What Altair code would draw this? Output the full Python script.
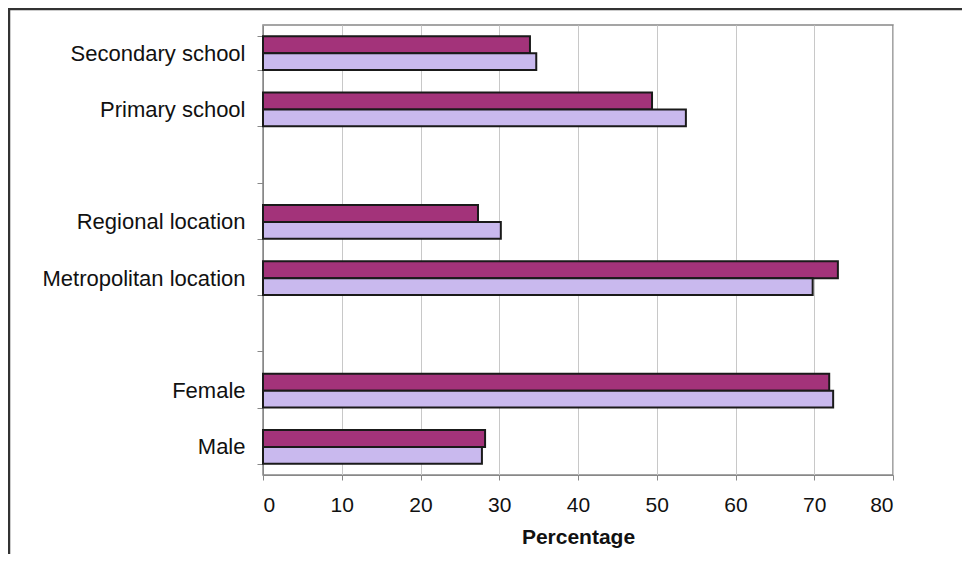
import altair as alt
import pandas as pd

categories = ["Secondary school", "Primary school", " ", "Regional location",
              "Metropolitan location", "  ", "Female", "Male"]
bar_categories = ["Secondary school", "Primary school", "Regional location",
                  "Metropolitan location", "Female", "Male"]
series_names = ["Series 1", "Series 2"]
series1 = [33.9, 49.4, 27.3, 73.0, 71.9, 28.2]
series2 = [34.7, 53.7, 30.2, 69.8, 72.4, 27.8]
x_ticks = [0, 10, 20, 30, 40, 50, 60, 70, 80]

rows = []
for c, a, b in zip(bar_categories, series1, series2):
    rows.append({"category": c, "series": series_names[0], "value": a})
    rows.append({"category": c, "series": series_names[1], "value": b})
df = pd.DataFrame(rows)

frame = alt.Chart(pd.DataFrame({"a": [0]})).mark_rect(
    fill=None, stroke="#333333", strokeWidth=2.5, clip=False
).encode(
    x=alt.value(-254), x2=alt.value(720), y=alt.value(-16), y2=alt.value(600)
)

bars = alt.Chart(df).mark_bar(stroke="#1a1a1a", strokeWidth=2).encode(
    y=alt.Y("category:N", sort=categories,
            scale=alt.Scale(domain=categories, paddingInner=0.4, paddingOuter=0.2),
            axis=alt.Axis(title=None, tickBand="extent", labelFontSize=22,
                          labelFont="Liberation Sans", labelColor="#111111",
                          labelPadding=12, labelLimit=400, tickSize=6,
                          tickColor="#888888", domainColor="#888888", grid=False)),
    yOffset=alt.YOffset("series:N", sort=series_names),
    x=alt.X("value:Q", scale=alt.Scale(domain=[0, 80], nice=False),
            axis=alt.Axis(values=x_ticks, title="Percentage", titleFontSize=21,
                          titleFont="Liberation Sans", titleFontWeight="bold",
                          titleColor="#111111", titlePadding=11,
                          labelFontSize=21, labelFont="Liberation Sans",
                          labelColor="#111111", labelPadding=14,
                          tickSize=5, tickColor="#888888", domainColor="#888888",
                          grid=True, gridColor="#c8c8c8", gridWidth=1)),
    color=alt.Color("series:N", sort=series_names,
                    scale=alt.Scale(domain=series_names, range=["#a3337a", "#c9b9ee"]),
                    legend=None),
)

chart = alt.layer(frame, bars).properties(
    width=630, height=450,
    autosize=alt.AutoSizeParams(type="none"),
    padding={"left": 255, "top": 17, "right": 69, "bottom": 79},
    background="white",
).configure_view(stroke="#888888", strokeWidth=1.5)

chart.save("out.html", embed_options={"renderer": "svg", "actions": False})
